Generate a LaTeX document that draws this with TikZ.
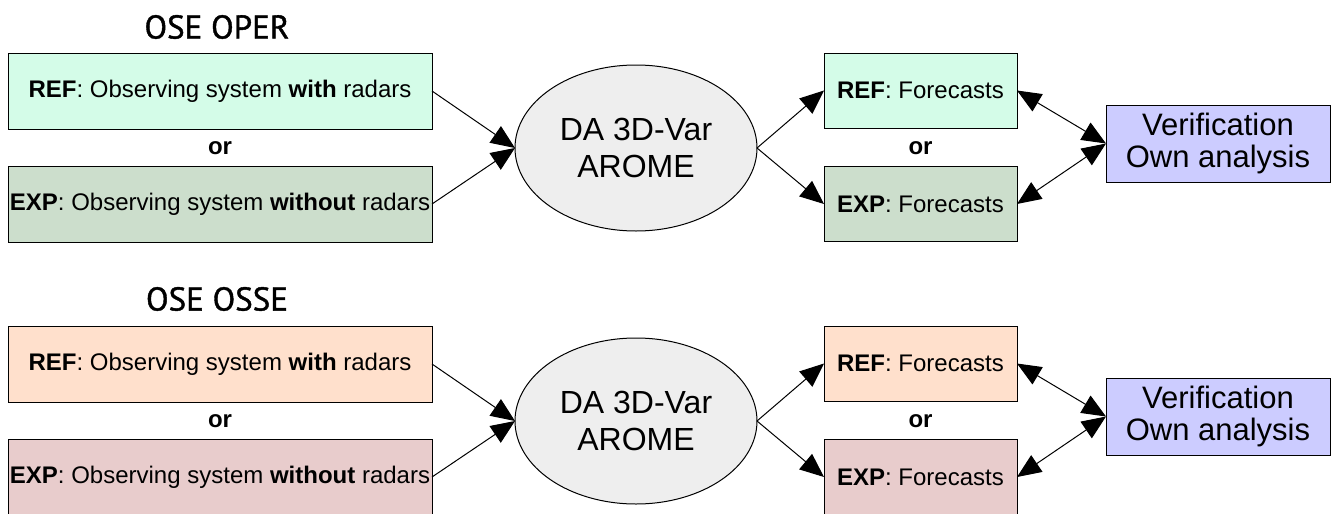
\documentclass[tikz,border=0pt]{standalone}
\usepackage{fontspec}
\setmainfont{Liberation Sans}
\newfontfamily\titlefont[FakeBold=1.2]{PT Sans}
\usepackage{tikz}
\usetikzlibrary{shapes.geometric,arrows.meta}
\definecolor{refoper}{RGB}{212,252,232}
\definecolor{expoper}{RGB}{204,222,204}
\definecolor{refosse}{RGB}{255,224,204}
\definecolor{exposse}{RGB}{232,204,204}
\definecolor{verif}{RGB}{204,204,255}
\definecolor{assim}{RGB}{238,238,238}

\begin{document}
\begin{tikzpicture}[
  x=0.5pt, y=-0.5pt,
  line width=0.5pt,
  every node/.style={inner sep=0pt, outer sep=0pt},
  title/.style={font=\titlefont\fontsize{16.5}{18}\selectfont},
  obsbox/.style={draw, rectangle, minimum width=212pt, minimum height=38pt, font=\fontsize{12}{14}\selectfont},
  fcbox/.style={draw, rectangle, minimum width=96.5pt, minimum height=37.5pt, font=\fontsize{12}{14}\selectfont},
  orlabel/.style={font=\bfseries\fontsize{12}{14}\selectfont},
  dabox/.style={draw, ellipse, fill=assim, minimum width=121pt, minimum height=83pt, align=center, font=\fontsize{16}{18.5}\selectfont},
  verbox/.style={draw, rectangle, fill=verif, minimum width=112pt, minimum height=38.5pt, align=center, font=\fontsize{15.5}{16}\selectfont},
  flow/.style={-{Triangle[length=12pt,width=10pt]}},
  both/.style={{Triangle[length=12pt,width=10pt]}-{Triangle[length=12pt,width=10pt]}}
]
\useasboundingbox (0,0) rectangle (1334,514);

% OSE OPER
\node[title] (ttlA) at (217,27) {OSE OPER};
\node[obsbox, fill=refoper] (refA) at (220,91) {\textbf{REF}: Observing system \textbf{with} radars};
\node[orlabel] (orA) at (220,148) {or};
\node[obsbox, fill=expoper] (expA) at (220,204) {\textbf{EXP}: Observing system \textbf{without} radars};
\node[dabox] (daA) at (636,148) {DA 3D-Var\\AROME};
\node[fcbox, fill=refoper] (fcrefA) at (920.5,90.5) {\textbf{REF}: Forecasts};
\node[orlabel] (orfcA) at (920.5,148) {or};
\node[fcbox, fill=expoper] (fcexpA) at (920.5,204) {\textbf{EXP}: Forecasts};
\node[verbox] (verA) at (1218,143.5) {Verification\\Own analysis};

\draw[flow] (refA.east) -- (daA.west);
\draw[flow] (expA.east) -- (daA.west);
\draw[flow] (daA.east) -- (fcrefA.west);
\draw[flow] (daA.east) -- (fcexpA.west);
\draw[both] (fcrefA.east) -- (verA.west);
\draw[both] (fcexpA.east) -- (verA.west);

% OSE OSSE
\node[title] (ttlB) at (217,299) {OSE OSSE};
\node[obsbox, fill=refosse] (refB) at (220,364) {\textbf{REF}: Observing system \textbf{with} radars};
\node[orlabel] (orB) at (220,421) {or};
\node[obsbox, fill=exposse] (expB) at (220,477) {\textbf{EXP}: Observing system \textbf{without} radars};
\node[dabox] (daB) at (636,421) {DA 3D-Var\\AROME};
\node[fcbox, fill=refosse] (fcrefB) at (920.5,363.5) {\textbf{REF}: Forecasts};
\node[orlabel] (orfcB) at (920.5,421) {or};
\node[fcbox, fill=exposse] (fcexpB) at (920.5,477) {\textbf{EXP}: Forecasts};
\node[verbox] (verB) at (1218,416.5) {Verification\\Own analysis};

\draw[flow] (refB.east) -- (daB.west);
\draw[flow] (expB.east) -- (daB.west);
\draw[flow] (daB.east) -- (fcrefB.west);
\draw[flow] (daB.east) -- (fcexpB.west);
\draw[both] (fcrefB.east) -- (verB.west);
\draw[both] (fcexpB.east) -- (verB.west);
\end{tikzpicture}
\end{document}
